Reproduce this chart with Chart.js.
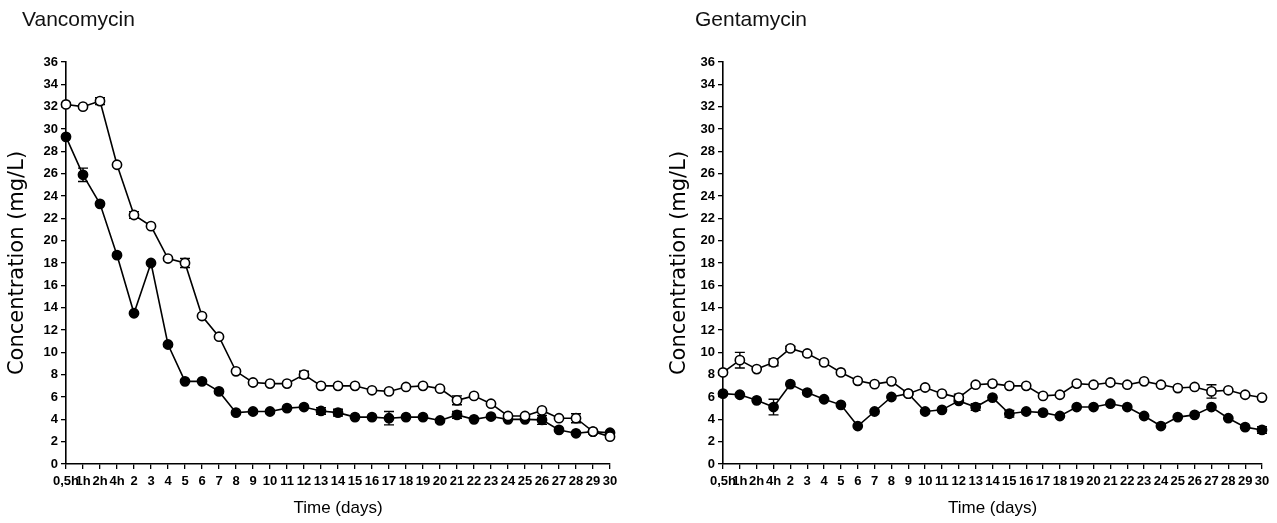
<!DOCTYPE html>
<html>
<head>
<meta charset="utf-8">
<script src="https://cdn.jsdelivr.net/npm/chart.js@4.4.1/dist/chart.umd.min.js"></script>
<style>
  html, body { margin: 0; padding: 0; background: #fff; }
  body { width: 1277px; height: 523px; position: relative; overflow: hidden; font-family: "Liberation Sans", Arial, sans-serif; }
  .panel { position: absolute; top: 0; height: 523px; }
  .panel-title { position: absolute; top: 7px; font-size: 21px; color: #111; }
</style>
</head>
<body>
<div class="panel" style="left:0;width:640px"><canvas id="chartVanco"></canvas></div>
<div class="panel" style="left:640px;width:637px"><canvas id="chartGenta"></canvas></div>
<div class="panel-title" style="left:22px">Vancomycin</div>
<div class="panel-title" style="left:695px">Gentamycin</div>
<script>
// time points: first hours, then days
const timeLabels = ['0,5h', '1h', '2h', '4h', '2', '3', '4', '5', '6', '7', '8', '9', '10', '11', '12', '13', '14',
    '15', '16', '17', '18', '19', '20', '21', '22', '23', '24', '25', '26', '27', '28', '29', '30'];

// Vancomycin concentrations (mg/L)
const vancoOpen = [32.2, 32.0, 32.5, 26.8, 22.3, 21.3, 18.4, 18.0, 13.25, 11.4, 8.3, 7.3, 7.2, 7.2, 8.0, 7.0, 7.0,
    7.0, 6.6, 6.5, 6.9, 7.0, 6.75, 5.7, 6.1, 5.4, 4.3, 4.3, 4.8, 4.1, 4.1, 2.9, 2.45];
const vancoFilled = [29.3, 25.9, 23.3, 18.7, 13.5, 18.0, 10.7, 7.4, 7.4, 6.5, 4.6, 4.7, 4.7, 5.0, 5.1, 4.75, 4.6,
    4.2, 4.2, 4.1, 4.2, 4.2, 3.9, 4.4, 4.0, 4.25, 4.0, 4.0, 3.95, 3.05, 2.75, 2.9, 2.8];
const vancoOpenErr = [0, 0, 0.3, 0, 0.3, 0, 0, 0.4, 0, 0, 0, 0, 0, 0, 0.3, 0, 0,
    0, 0, 0, 0, 0, 0, 0.4, 0, 0, 0, 0, 0, 0, 0.4, 0, 0];
const vancoFilledErr = [0, 0.6, 0, 0, 0, 0, 0, 0, 0, 0, 0, 0, 0, 0, 0, 0.3, 0.3,
    0, 0, 0.6, 0, 0, 0, 0.3, 0, 0, 0, 0, 0.4, 0, 0, 0, 0];

// Gentamycin concentrations (mg/L)
const gentaOpen = [8.2, 9.3, 8.5, 9.1, 10.35, 9.9, 9.1, 8.2, 7.45, 7.15, 7.4, 6.3, 6.85, 6.3, 5.95, 7.1, 7.2,
    7.0, 7.0, 6.1, 6.2, 7.2, 7.1, 7.3, 7.1, 7.4, 7.1, 6.8, 6.9, 6.5, 6.6, 6.2, 5.95];
const gentaFilled = [6.3, 6.2, 5.7, 5.1, 7.15, 6.4, 5.8, 5.3, 3.4, 4.7, 6.0, 6.3, 4.7, 4.85, 5.65, 5.1, 5.95,
    4.5, 4.7, 4.6, 4.3, 5.1, 5.1, 5.4, 5.1, 4.3, 3.4, 4.2, 4.4, 5.1, 4.1, 3.3, 3.05];
const gentaOpenErr = [0, 0.7, 0, 0.3, 0.2, 0, 0, 0, 0, 0, 0, 0, 0, 0, 0.3, 0, 0,
    0, 0, 0, 0, 0, 0, 0, 0, 0, 0, 0, 0, 0.6, 0, 0, 0];
const gentaFilledErr = [0, 0, 0, 0.7, 0, 0, 0, 0, 0, 0, 0, 0, 0, 0, 0, 0.3, 0,
    0.3, 0, 0, 0, 0, 0, 0, 0, 0, 0, 0, 0, 0, 0, 0, 0.3];

// draws the vertical error bars under the markers
const errorBarPlugin = {
    id: 'errorBars',
    beforeDatasetsDraw(chart) {
        const ctx = chart.ctx;
        const xScale = chart.scales.x;
        const yScale = chart.scales.y;
        ctx.save();
        ctx.strokeStyle = '#000';
        ctx.lineWidth = 1.4;
        chart.data.datasets.forEach(ds => {
            if (!ds.errors) return;
            ds.errors.forEach((err, i) => {
                if (!err) return;
                const x = xScale.getPixelForValue(i);
                const yTop = yScale.getPixelForValue(ds.data[i] + err);
                const yBot = yScale.getPixelForValue(ds.data[i] - err);
                ctx.beginPath();
                ctx.moveTo(x, yTop); ctx.lineTo(x, yBot);
                ctx.moveTo(x - 5, yTop); ctx.lineTo(x + 5, yTop);
                ctx.moveTo(x - 5, yBot); ctx.lineTo(x + 5, yBot);
                ctx.stroke();
            });
        });
        ctx.restore();
    }
};

function makeDataset(values, errors, filled) {
    return {
        data: values,
        errors: errors,
        borderColor: '#000',
        borderWidth: 1.6,
        pointRadius: 4.6,
        pointBorderWidth: 1.6,
        pointBorderColor: '#000',
        pointBackgroundColor: filled ? '#000' : '#fff',
        pointStyle: 'circle',
        tension: 0,
        fill: false
    };
}

function makeChart(canvasId, openValues, openErr, filledValues, filledErr, yAxisWidth, padLeft, padRight) {
    const axisGrid = {
        display: true,
        drawOnChartArea: false,
        drawTicks: true,
        tickLength: 5,
        color: '#000',
        lineWidth: 1.3
    };
    return new Chart(document.getElementById(canvasId), {
        type: 'line',
        data: {
            labels: timeLabels,
            datasets: [
                makeDataset(openValues, openErr, false),
                makeDataset(filledValues, filledErr, true)
            ]
        },
        options: {
            responsive: true,
            maintainAspectRatio: false,
            animation: false,
            layout: { padding: { top: 62, left: padLeft, right: padRight, bottom: 0 } },
            plugins: {
                legend: { display: false },
                tooltip: { enabled: false }
            },
            scales: {
                x: {
                    type: 'category',
                    offset: false,
                    grid: axisGrid,
                    border: { display: true, color: '#000', width: 1.6 },
                    ticks: {
                        autoSkip: false,
                        maxRotation: 0,
                        minRotation: 0,
                        padding: 5,
                        color: '#000',
                        font: { family: 'Liberation Sans', size: 13, weight: 'bold' }
                    },
                    title: {
                        display: true,
                        text: 'Time (days)',
                        color: '#000',
                        font: { family: 'Liberation Sans', size: 17 },
                        padding: { top: 2, bottom: 4 }
                    },
                    afterFit(scale) { scale.height = 59; }
                },
                y: {
                    min: 0,
                    max: 36,
                    grid: axisGrid,
                    border: { display: true, color: '#000', width: 1.6 },
                    ticks: {
                        stepSize: 2,
                        padding: 3,
                        color: '#000',
                        font: { family: 'Liberation Sans', size: 13, weight: 'bold' }
                    },
                    title: {
                        display: true,
                        text: 'Concentration (mg/L)',
                        color: '#000',
                        font: { family: 'DejaVu Sans', size: 21 },
                        padding: { top: 5, bottom: 2 }
                    },
                    afterFit(scale) { scale.width = yAxisWidth; }
                }
            }
        },
        plugins: [errorBarPlugin]
    });
}

makeChart('chartVanco', vancoOpen, vancoOpenErr, vancoFilled, vancoFilledErr, 66, 0, 30);
makeChart('chartGenta', gentaOpen, gentaOpenErr, gentaFilled, gentaFilledErr, 61, 22, 15);
</script>
</body>
</html>
